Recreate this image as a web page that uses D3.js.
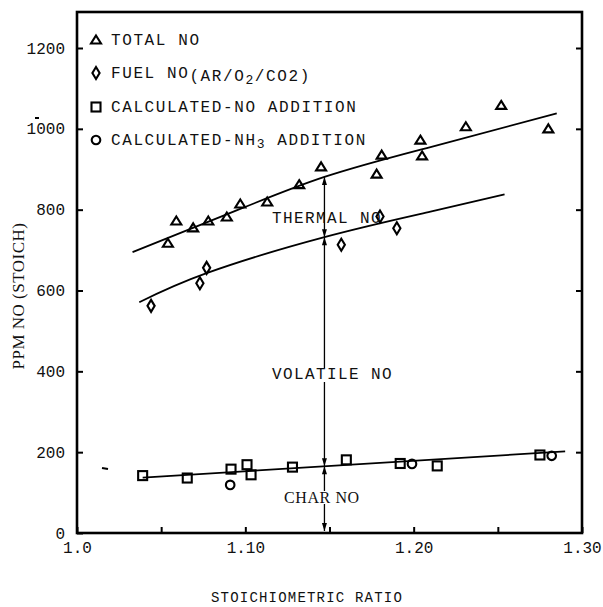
<!DOCTYPE html>
<html>
<head>
<meta charset="utf-8">
<script src="https://cdn.jsdelivr.net/npm/d3@7"></script>
<style>
  body { margin: 0; background: #fff; }
  svg text { font-family: "Liberation Mono", "DejaVu Sans Mono", monospace; fill: #111; }
  .serif { font-family: "Liberation Serif", "DejaVu Serif", serif; }
</style>
</head>
<body>
<svg id="chart" width="603" height="607"></svg>
<script>
// data: [stoichiometric ratio, ppm NO]
var totalNO = [[1.054,717],[1.059,772],[1.069,755],[1.078,772],[1.089,782],[1.097,814],
  [1.113,819],[1.132,862],[1.145,906],[1.178,888],[1.181,935],[1.204,972],[1.205,933],
  [1.231,1005],[1.252,1058],[1.280,1000]];
var fuelNO = [[1.044,562],[1.073,618],[1.077,656],[1.157,713],[1.180,783],[1.190,754]];
var calcNO = [[1.039,142],[1.0655,136],[1.0915,158],[1.101,169],[1.1034,144],[1.128,163],
  [1.160,181],[1.192,172],[1.214,166],[1.275,193]];
var calcNH3 = [[1.091,119],[1.199,171],[1.282,191]];

// hand drawn fit lines
var totalFit = [[1.033,695],[1.09,790],[1.147,881],[1.21,955],[1.285,1038]];
var fuelFit = [[1.037,571],[1.077,643],[1.147,732],[1.21,795],[1.254,838]];
var charFit = [[1.039,137],[1.290,202]];

var splitRatio = 1.147;
var xTicks = [1.0, 1.05, 1.10, 1.15, 1.20, 1.25, 1.30];
var xLabels = {"1": "1.0", "1.1": "1.10", "1.2": "1.20", "1.3": "1.30"};
var yTicks = [0, 200, 400, 600, 800, 1000, 1200];

var legendItems = [
  {shape: 'tri', text: 'TOTAL NO'},
  {shape: 'dia', text: 'FUEL NO'},
  {shape: 'sq', text: 'CALCULATED-NO ADDITION'},
  {shape: 'circ', text: 'CALCULATED-NH'}
];

var svg = d3.select('#chart');
var plotL = 77, plotR = 582, plotT = 12, plotB = 533;

var x = d3.scaleLinear().domain([1.0, 1.3]).range([plotL, plotR]);
var y = d3.scaleLinear().domain([0, 1200]).range([plotB, 48]);

// axes
var gx = svg.append('g').attr('transform', 'translate(0,' + plotB + ')')
  .call(d3.axisBottom(x).tickValues(xTicks).tickSizeInner(-6).tickSizeOuter(0).tickPadding(9)
    .tickFormat(function(d) { return xLabels[String(+d.toFixed(2))] || ''; }));
var gy = svg.append('g').attr('transform', 'translate(' + plotL + ',0)')
  .call(d3.axisLeft(y).tickValues(yTicks).tickSizeInner(-6).tickSizeOuter(0).tickPadding(12)
    .tickFormat(d3.format('d')));
var gr = svg.append('g').attr('transform', 'translate(' + plotR + ',0)')
  .call(d3.axisRight(y).tickValues(yTicks.slice(1)).tickSizeInner(-6).tickSizeOuter(0).tickFormat(''));
[gx, gy, gr].forEach(function(g) {
  g.select('.domain').remove();
  g.selectAll('line').attr('stroke', '#000').attr('stroke-width', 2);
  g.selectAll('text').attr('font-family', '"Liberation Mono", monospace')
    .attr('font-size', 16).attr('fill', '#444');
});

// frame
svg.append('rect')
  .attr('x', plotL).attr('y', plotT)
  .attr('width', plotR - plotL).attr('height', plotB - plotT)
  .attr('fill', 'none').attr('stroke', '#000').attr('stroke-width', 2.6);

// axis titles
svg.append('text')
  .attr('x', 307).attr('y', 602)
  .attr('text-anchor', 'middle').attr('font-size', 14).attr('letter-spacing', 1.2)
  .text('STOICHIOMETRIC RATIO');
svg.append('text').attr('class', 'serif')
  .attr('transform', 'translate(24,296) rotate(-90)')
  .attr('text-anchor', 'middle').attr('font-size', 17).attr('letter-spacing', 0.5)
  .text('PPM NO (STOICH)');

// scan specks
svg.append('line').attr('x1', 35).attr('x2', 39).attr('y1', 118).attr('y2', 118)
  .attr('stroke', '#000').attr('stroke-width', 2);
svg.append('line').attr('x1', 102).attr('x2', 108).attr('y1', 468).attr('y2', 469)
  .attr('stroke', '#000').attr('stroke-width', 2);

// fit lines
var line = d3.line()
  .x(function(d) { return x(d[0]); })
  .y(function(d) { return y(d[1]); })
  .curve(d3.curveNatural);
[totalFit, fuelFit, charFit].forEach(function(f) {
  svg.append('path').attr('d', line(f))
    .attr('fill', 'none').attr('stroke', '#000').attr('stroke-width', 1.8);
});

// markers
function marker(g, shape) {
  if (shape === 'tri') {
    g.append('path').attr('d', 'M0,-4.5L5,3.5L-5,3.5Z');
  } else if (shape === 'dia') {
    g.append('path').attr('d', 'M0,-6L3.6,0L0,6L-3.6,0Z');
  } else if (shape === 'sq') {
    g.append('rect').attr('x', -4.5).attr('y', -4.5).attr('width', 9).attr('height', 9);
  } else {
    g.append('circle').attr('r', 4.3);
  }
  g.attr('fill', 'none').attr('stroke', '#000').attr('stroke-width', 2.1);
}
function drawSeries(data, shape) {
  svg.append('g').selectAll('g').data(data).enter().append('g')
    .attr('transform', function(d) { return 'translate(' + x(d[0]) + ',' + y(d[1]) + ')'; })
    .each(function() { marker(d3.select(this), shape); });
}
drawSeries(totalNO, 'tri');
drawSeries(fuelNO, 'dia');
drawSeries(calcNO, 'sq');
drawSeries(calcNH3, 'circ');

// vertical split line with arrows
function valAt(fit, r) {
  for (var i = 0; i < fit.length - 1; i++) {
    if (r >= fit[i][0] && r <= fit[i + 1][0]) {
      var t = (r - fit[i][0]) / (fit[i + 1][0] - fit[i][0]);
      return fit[i][1] + t * (fit[i + 1][1] - fit[i][1]);
    }
  }
  return fit[fit.length - 1][1];
}
var sx = x(splitRatio);
var yTot = y(valAt(totalFit, splitRatio));
var yFuel = y(valAt(fuelFit, splitRatio));
var yChar = y(valAt(charFit, splitRatio));
var yZero = y(0);
svg.append('line').attr('x1', sx).attr('x2', sx).attr('y1', yTot).attr('y2', yZero - 2)
  .attr('stroke', '#000').attr('stroke-width', 1.3);
function arrow(yy, dir) {
  svg.append('path')
    .attr('d', 'M' + sx + ',' + yy + 'l-2.5,' + (-dir * 8) + 'l5,0Z')
    .attr('fill', '#000');
}
arrow(yTot, -1);
arrow(yFuel, 1);
arrow(yFuel, -1);
arrow(yChar, 1);
arrow(yChar, -1);
arrow(yZero - 2, 1);

// region labels
function label(txt, lx, ly, knock, cls) {
  var t = svg.append('text').attr('x', lx).attr('y', ly)
    .attr('font-size', 16).attr('letter-spacing', 1.4).text(txt);
  if (cls) t.attr('class', cls).attr('letter-spacing', 0.6);
  if (knock) {
    var b = t.node().getBBox();
    svg.insert('rect', function() { return t.node(); })
      .attr('x', b.x - 1).attr('y', b.y + 2).attr('width', b.width + 2).attr('height', b.height - 4)
      .attr('fill', '#fff');
  }
  return t;
}
label('THERMAL NO', 272, 223, false);
label('VOLATILE NO', 272, 379, true);
label('CHAR NO', 284, 503, true, 'serif');

// legend
var legY = [40, 73, 107, 140];
legendItems.forEach(function(it, i) {
  var g = svg.append('g').attr('transform', 'translate(96,' + legY[i] + ')');
  marker(g, it.shape);
  var t = svg.append('text').attr('x', 111).attr('y', legY[i] + 5)
    .attr('font-size', 16).attr('letter-spacing', 1.6).text(it.text);
  if (it.shape === 'dia') {
    t.append('tspan').attr('dy', 3).text('(AR/O');
    t.append('tspan').attr('dy', 3).attr('font-size', 13).text('2');
    t.append('tspan').attr('dy', -3).text('/CO2)');
  }
  if (it.shape === 'circ') {
    t.append('tspan').attr('dy', 3).attr('font-size', 13).text('3');
    t.append('tspan').attr('dy', -3).text(' ADDITION');
  }
});
</script>
</body>
</html>
